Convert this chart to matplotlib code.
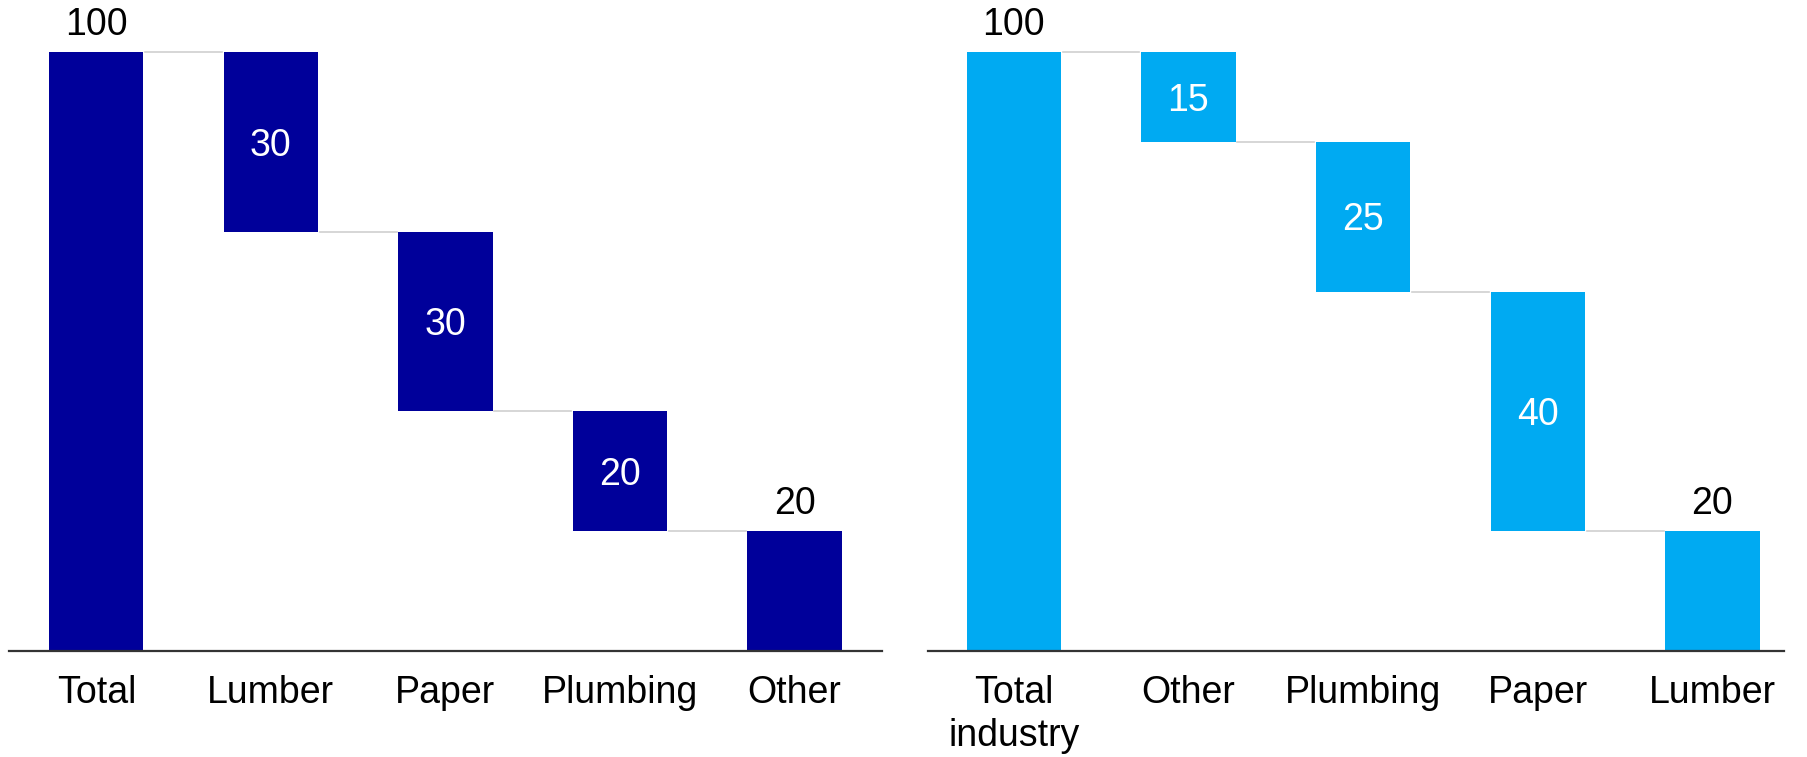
import matplotlib.pyplot as plt

plt.rcParams['font.family'] = ['Liberation Sans', 'DejaVu Sans']

# left waterfall: total broken down by segment
left_cats = ['Total', 'Lumber', 'Paper', 'Plumbing', 'Other']
left_vals = [100, 30, 30, 20, 20]

# right waterfall: same total, different ordering
right_cats = ['Total\nindustry', 'Other', 'Plumbing', 'Paper', 'Lumber']
right_vals = [100, 15, 25, 40, 20]

DARK = '#00009A'
LIGHT = '#00AAF2'
WIDTH = 0.54
FS = 27


def waterfall(ax, cats, vals, color):
    x = range(len(cats))
    bottoms, heights = [], []
    level = vals[0]
    bottoms.append(0)
    heights.append(vals[0])
    for v in vals[1:-1]:
        level -= v
        bottoms.append(level)
        heights.append(v)
    bottoms.append(0)
    heights.append(vals[-1])

    ax.bar(x, heights, bottom=bottoms, width=WIDTH, color=color, zorder=2)

    # connector lines between neighbouring bars
    tops = [b + h for b, h in zip(bottoms, heights)]
    for i in range(len(cats) - 1):
        y = bottoms[i] if 0 < i < len(cats) - 1 else tops[i]
        ax.plot([i + WIDTH / 2 + 0.01, i + 1 - WIDTH / 2 - 0.01], [y, y],
                color='#d0d0d0', lw=1.2, zorder=1)

    # value labels: totals above, steps inside
    for i, (b, h) in enumerate(zip(bottoms, heights)):
        if i == 0 or i == len(cats) - 1:
            ax.text(i, b + h + 1.6, str(vals[i]), ha='center', va='bottom',
                    fontsize=FS, color='black')
        else:
            ax.text(i, b + h / 2 - 0.6, str(vals[i]), ha='center', va='center',
                    fontsize=FS, color='white')

    ax.set_xticks(list(x))
    ax.set_xticklabels(cats, fontsize=FS, linespacing=1.25)
    ax.tick_params(axis='x', length=0, pad=17)
    ax.set_yticks([])
    ax.set_ylim(0, 108.7)
    for s in ['top', 'right', 'left']:
        ax.spines[s].set_visible(False)
    ax.spines['bottom'].set_color('#333333')
    ax.spines['bottom'].set_linewidth(1.6)


fig = plt.figure(figsize=(18.07, 7.57), dpi=100)
ax1 = fig.add_axes([0.005, 0.14, 0.483, 0.86])
ax2 = fig.add_axes([0.5136, 0.14, 0.4737, 0.86])

waterfall(ax1, left_cats, left_vals, DARK)
ax1.set_xlim(-0.5, 4.5)
waterfall(ax2, right_cats, right_vals, LIGHT)
ax2.set_xlim(-0.49, 4.41)

fig.savefig('out.png', dpi=100)
